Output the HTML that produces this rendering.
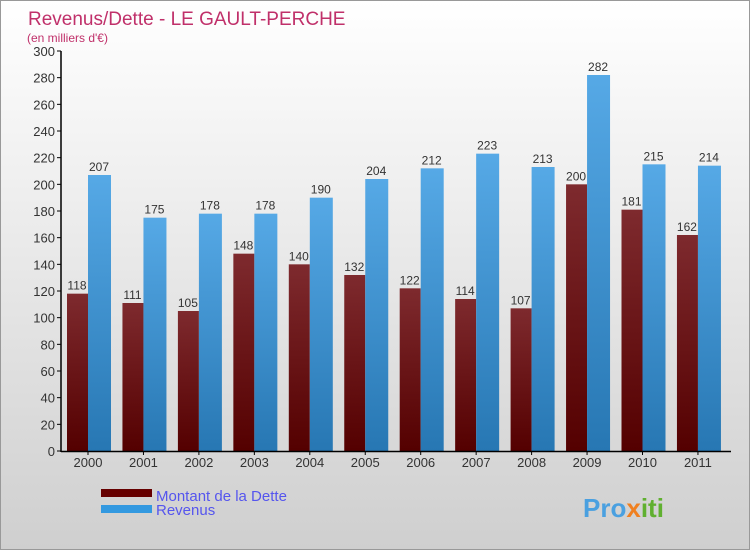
<!DOCTYPE html>
<html><head><meta charset="utf-8"><style>
body{margin:0}
#c{width:750px;height:550px;position:relative;background:linear-gradient(#ffffff,#cfcfcf);font-family:"Liberation Sans",sans-serif;overflow:hidden;box-sizing:border-box;border:1px solid #999}
</style></head><body>
<div id="c">
<svg id="s" width="750" height="550" style="position:absolute;left:0;top:0">
<defs>
<linearGradient id="gd" x1="0" y1="0" x2="0" y2="1"><stop offset="0" stop-color="#7e2a2e"/><stop offset="1" stop-color="#540000"/></linearGradient>
<linearGradient id="gr" x1="0" y1="0" x2="0" y2="1"><stop offset="0" stop-color="#56a9e6"/><stop offset="1" stop-color="#2777b3"/></linearGradient>
</defs>
<text x="27" y="24" font-size="19" fill="#c0306a">Revenus/Dette - LE GAULT-PERCHE</text>
<text x="26" y="41" font-size="12" fill="#c0306a">(en milliers d'€)</text>
<g id="g"></g>
<rect x="100" y="488" width="51" height="8" fill="#660000"/>
<text x="155" y="500" font-size="15" fill="#5555ee">Montant de la Dette</text>
<rect x="100" y="504" width="51" height="8" fill="#3399e0"/>
<text x="155" y="514" font-size="15" fill="#5555ee">Revenus</text>
<text x="582" y="516" font-size="26" font-weight="bold" fill="#4aa0e0">Pro<tspan fill="#f08020">x</tspan><tspan fill="#60b030">iti</tspan></text>
</svg></div>
<script>
const years=["2000","2001","2002","2003","2004","2005","2006","2007","2008","2009","2010","2011"];
const dette=[118,111,105,148,140,132,122,114,107,200,181,162];
const revenus=[207,175,178,178,190,204,212,223,213,282,215,214];
const ticks=[0,20,40,60,80,100,120,140,160,180,200,220,240,260,280,300];
const g=document.getElementById('g');const NS="http://www.w3.org/2000/svg";
const y=v=>450-v*400/300;const cx=i=>87+i*55.45;
function mk(t,a){const e=document.createElementNS(NS,t);for(const k in a)e.setAttribute(k,a[k]);g.appendChild(e);return e;}
ticks.forEach(t=>{
const l=mk('line',{x1:56,x2:60,y1:y(t),y2:y(t),stroke:'#000'});


const tx=mk('text',{x:54,y:y(t)+5,'font-size':13,fill:'#333','text-anchor':'end'});tx.textContent=t;


});
years.forEach((yr,i)=>{
const c=cx(i);
const b1=mk('rect',{x:c-21,y:y(dette[i]),width:21,height:450-y(dette[i]),fill:'url(#gd)'});


const b2=mk('rect',{x:c,y:y(revenus[i]),width:23,height:450-y(revenus[i]),fill:'url(#gr)'});


const t1=mk('text',{x:c-11,y:y(dette[i])-4,'font-size':12,fill:'#333','text-anchor':'middle'});t1.textContent=dette[i];


const t2=mk('text',{x:c+11,y:y(revenus[i])-4,'font-size':12,fill:'#333','text-anchor':'middle'});t2.textContent=revenus[i];


const tk=mk('line',{x1:c,x2:c,y1:450,y2:454,stroke:'#000'});


const xl=mk('text',{x:c,y:466,'font-size':13,fill:'#333','text-anchor':'middle'});xl.textContent=yr;


});
const ax=mk('line',{x1:60,x2:60,y1:50,y2:451,stroke:'#000','stroke-width':1.5});


const bx=mk('line',{x1:60,x2:730,y1:450.5,y2:450.5,stroke:'#000','stroke-width':1.5});


</script>
</body></html>
